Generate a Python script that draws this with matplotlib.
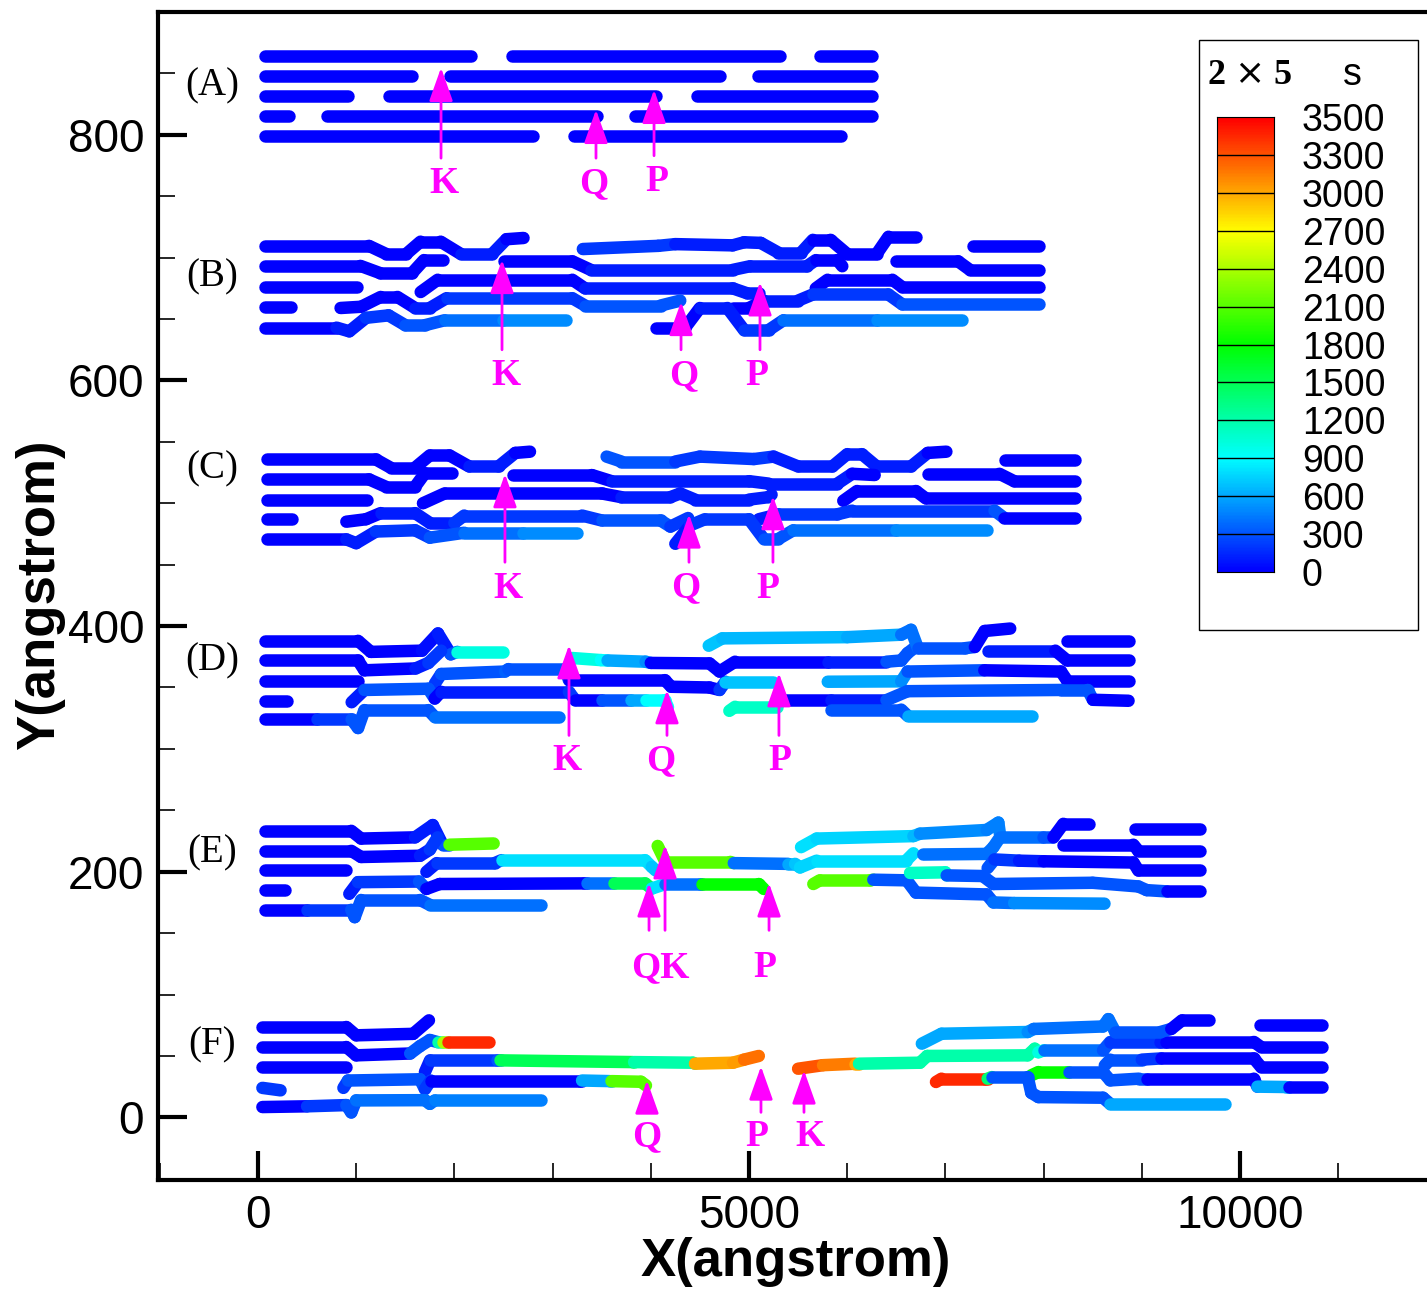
import numpy as np
import matplotlib
matplotlib.use('Agg')
import matplotlib.pyplot as plt
from matplotlib.collections import LineCollection
from matplotlib.colors import LinearSegmentedColormap
from matplotlib.patches import Rectangle
from matplotlib.ticker import MultipleLocator

plt.rcParams['font.family'] = ['Liberation Sans', 'DejaVu Sans']

# contour levels of the s legend
levels = [0, 300, 600, 900, 1200, 1500, 1800, 2100, 2400, 2700, 3000, 3300, 3500]

# every chain is a list of (x, y, s) knots
panel_a = [
    [(70, 864, 0), (2170, 864, 0)], [(2585, 864, 0), (5317, 864, 0)], [(5722, 864, 0), (6254, 864, 0)],
    [(70, 848, 0), (1569, 848, 0)], [(1954, 848, 0), (4706, 848, 0)], [(5091, 848, 0), (6254, 848, 0)],
    [(70, 832, 0), (918, 832, 0)], [(1333, 832, 0), (4054, 832, 0)], [(4469, 832, 0), (6254, 832, 0)],
    [(70, 815.5, 0), (317, 815.5, 0)], [(702, 815.5, 0), (3453, 815.5, 0)], [(3838, 815.5, 0), (6254, 815.5, 0)],
    [(70, 799, 0), (2802, 799, 0)], [(3217, 799, 0), (5938, 799, 0)],
]

panel_b = [
    [(70, 709.6, 0), (1130, 709.6, 0), (1305, 703, 0), (1510, 703, 0), (1655, 713, 0), (1860, 713, 0),
     (2065, 703, 100), (2385, 703, 100), (2530, 715, 0), (2704, 716, 0)],
    [(3308, 707, 200), (4076, 709.6, 200), (4250, 711, 100), (4834, 710, 100), (4950, 712.5, 100), (5120, 712, 100),
     (5300, 704, 100), (5530, 704, 100), (5650, 714.5, 0), (5830, 714.5, 0), (6000, 703, 0), (6300, 703, 0),
     (6420, 717, 0), (6700, 717, 0)],
    [(7285, 709.6, 0), (7952, 709.6, 0)],
    [(70, 693.3, 0), (1043, 693.3, 0), (1247, 687.3, 0), (1568, 687.3, 0), (1690, 698, 0), (1887, 698, 0)],
    [(2503, 697, 0), (3201, 697, 0), (3390, 690, 100), (4834, 690, 100), (5010, 693, 100), (5590, 693, 100),
     (5680, 698, 0), (5900, 698, 0), (5950, 693, 0)],
    [(6500, 697, 0), (7130, 697, 0), (7250, 690, 0), (7952, 690, 0)],
    [(70, 676, 0), (1012, 676, 0)],
    [(1657, 672, 0), (1830, 682, 0), (3201, 682, 0), (3330, 675, 100), (4834, 675, 100), (4980, 671, 100), (5100, 671, 100)],
    [(5680, 675, 0), (5800, 682, 0), (6460, 682, 0), (6560, 676, 0), (7952, 676, 0)],
    [(70, 659.6, 0), (340, 659.6, 0)],
    [(841, 659, 0), (1050, 660, 0), (1250, 668, 0), (1420, 668, 0), (1600, 659, 100), (1750, 659, 100),
     (1920, 667, 200), (3200, 667, 200), (3330, 661, 300), (4100, 661, 300), (4300, 665, 300)],
    [(4836, 659, 0), (5000, 659, 0), (5150, 665, 100), (5500, 665, 100), (5650, 670, 200), (6420, 670, 200),
     (6560, 662, 300), (7952, 662, 300)],
    [(70, 643, 0), (800, 643, 100), (930, 640, 100), (1100, 651, 200), (1330, 653, 200), (1500, 645, 300),
     (1700, 645, 300), (1900, 649, 400), (2500, 649, 500), (3141, 649, 550)],
    [(4048, 643, 0), (4350, 643, 0), (4500, 659, 100), (4780, 659, 100), (4950, 641, 200), (5200, 641, 200),
     (5350, 649, 400), (6300, 649, 500), (7165, 649, 550)],
]

panel_c = [
    [(90, 535.7, 0), (1200, 535.7, 0), (1350, 529, 0), (1600, 529, 0), (1750, 539, 0), (1950, 539, 0),
     (2150, 530, 100), (2450, 530, 100), (2620, 541, 0), (2770, 542, 0)],
    [(3550, 538, 300), (3700, 534, 300), (4250, 534, 200), (4500, 538, 200), (5050, 536, 200), (5250, 538, 100),
     (5500, 530, 100), (5850, 530, 100), (6000, 540, 100), (6150, 540, 100), (6300, 530, 100), (6650, 530, 100),
     (6820, 541, 0), (7010, 542, 0)],
    [(7610, 535.5, 0), (8320, 535.5, 0)],
    [(90, 519.5, 0), (1130, 519.5, 0), (1300, 513.5, 0), (1600, 513.5, 0), (1700, 524.5, 0), (1980, 524.5, 0)],
    [(2600, 523, 0), (3400, 523, 0), (3600, 518, 100), (5000, 518, 100), (5200, 516, 100), (5900, 516, 100),
     (6050, 524, 0), (6280, 523, 0)],
    [(6820, 524, 0), (7550, 524, 0), (7700, 518, 0), (8320, 518, 0)],
    [(90, 503, 0), (1110, 503, 0)],
    [(1680, 500, 0), (1900, 508, 0), (3500, 508, 0), (3700, 505, 100), (4200, 505, 100), (4300, 508, 100),
     (4450, 503, 100), (5000, 503, 100), (5200, 505, 100), (5230, 507, 100)],
    [(5960, 502, 0), (6100, 510, 0), (6700, 510, 0), (6800, 504, 0), (8320, 504, 0)],
    [(90, 487, 0), (350, 487, 0)],
    [(900, 485, 0), (1100, 487, 0), (1250, 492, 100), (1600, 492, 100), (1750, 484, 100), (2000, 484, 200),
     (2100, 490, 200), (3300, 490, 200), (3500, 486, 300), (4100, 486, 300), (4200, 481, 200), (4380, 488, 200)],
    [(5100, 487, 100), (5300, 491, 200), (5900, 491, 200), (6050, 494, 200), (7500, 494, 300), (7600, 488, 0), (8320, 488, 0)],
    [(90, 470.6, 0), (900, 470.6, 100), (1000, 467.5, 100), (1200, 477, 200), (1600, 478, 200), (1750, 472, 300),
     (2100, 476, 400), (2700, 476, 500), (3250, 476, 550)],
    [(4250, 467, 100), (4400, 482, 200), (4550, 487, 200), (5000, 487, 200), (5150, 471, 300), (5300, 471, 300),
     (5450, 478, 400), (6500, 478, 500), (7420, 478, 550)],
]

panel_d = [
    [(70, 388, 0), (1019, 388, 0), (1149, 379, 0), (1670, 380, 50), (1833, 394, 100), (1963, 377, 300),
     (2030, 379, 1000), (2490, 379, 1000)],
    [(70, 372, 0), (1019, 372, 0), (1084, 364, 0), (1605, 365.5, 100), (1735, 370, 200), (1865, 380, 300)],
    [(70, 355.5, 0), (1020, 355.5, 0)],
    [(1800, 353, 200), (1865, 361, 300), (2516, 363, 350), (2548, 365, 300), (3130, 365, 300), (3166, 356, 0),
     (4143, 356, 0), (4208, 350.6, 0), (4598, 350, 0), (4700, 348, 200), (4760, 354.7, 700), (5249, 354.7, 700)],
    [(70, 339, 0), (300, 339, 0)],
    [(954, 338, 100), (1084, 348, 300), (1735, 349, 300), (1800, 341, 0), (1865, 346.5, 100), (3166, 346.5, 200),
     (3230, 339.7, 0), (3500, 339.7, 300), (3800, 339.7, 600), (3950, 339.7, 900), (4143, 339.7, 900), (4175, 334, 900)],
    [(70, 324, 0), (600, 324, 200), (954, 324, 300), (1019, 317, 300), (1084, 331.6, 300), (1735, 331.6, 300),
     (1800, 326, 400), (3069, 326, 500)],
    [(3200, 374, 1000), (3492, 372.3, 900), (3560, 372, 600), (3947, 371, 500), (4000, 370, 0), (4598, 369.6, 0),
     (4700, 363, 0), (4858, 371, 0), (5800, 371, 100), (6400, 371, 300), (6550, 372, 300), (6615, 378, 300),
     (6680, 382, 300)],
    [(4590, 384, 700), (4728, 390, 650), (6000, 391, 600), (6550, 393, 400), (6650, 397, 400), (6720, 382, 300),
     (7200, 382, 300), (7300, 383, 0), (7400, 396, 0), (7660, 398, 0)],
    [(8240, 388, 0), (8865, 388, 0)],
    [(7430, 380, 100), (8120, 380, 0), (8240, 372, 0), (8865, 372, 0)],
    [(5802, 354.7, 600), (6550, 355, 500), (6615, 363, 300), (7396, 364, 0), (8177, 363, 0), (8240, 355.5, 0), (8865, 355.5, 0)],
    [(4800, 331, 1100), (4858, 334.3, 1100), (5281, 334.3, 1100), (5314, 339.7, 0), (5834, 339.7, 100),
     (6400, 339.7, 300), (6615, 347, 300), (8177, 348, 300), (8450, 348, 300), (8502, 340, 0), (8865, 339.2, 0)],
    [(5834, 332, 300), (6550, 332, 300), (6615, 327, 600), (7884, 327, 600)],
]

panel_e = [
    [(70, 233.3, 0), (950, 233.3, 0), (1050, 227, 0), (1600, 228, 100), (1780, 238, 100), (1880, 222, 300),
     (1950, 222, 2100), (2400, 223, 2100)],
    [(70, 217, 0), (950, 217, 0), (1050, 212, 0), (1650, 213, 100), (1750, 218, 200), (1830, 228, 300)],
    [(70, 201.2, 0), (900, 201.2, 0)],
    [(1715, 199.9, 100), (1819, 207, 200), (2410, 207, 200), (2480, 209.4, 800), (3941, 209.4, 800),
     (4010, 204, 700), (4050, 201, 600)],
    [(70, 185, 0), (280, 185, 0)],
    [(930, 182, 100), (1019, 191.5, 200), (1640, 192, 300), (1715, 186, 0), (1850, 190, 0), (3315, 190.5, 0),
     (3350, 190.5, 400), (3628, 190.5, 1500), (3941, 190.5, 1500), (4010, 186.3, 800), (4149, 190, 400),
     (4497, 190, 400), (4520, 190, 1800), (5100, 190, 1800), (5150, 186, 1800)],
    [(70, 169, 0), (500, 169, 200), (950, 169, 300), (985, 163, 300), (1050, 177, 300), (1650, 177, 300),
     (1750, 173, 400), (2880, 173, 400)],
    [(4070, 221, 2100), (4149, 208, 2100), (4810, 208, 2100), (4845, 207, 400), (5400, 206.4, 600),
     (5469, 206.4, 700), (5520, 203.5, 750), (5689, 209, 800), (6600, 209, 800), (6674, 215, 700)],
    [(5530, 220, 800), (5689, 227, 750), (6674, 229, 650), (6741, 231, 500), (7420, 234, 450), (7539, 240, 450),
     (7560, 228, 400), (7997, 228, 300), (8100, 228, 0), (8201, 239, 0), (8460, 239, 0)],
    [(6775, 214, 400), (7420, 214.5, 400), (7488, 220, 400), (7539, 226, 400)],
    [(7430, 203, 300), (7500, 210, 200), (7750, 209, 100), (8000, 208.5, 0), (8914, 207.5, 0), (8965, 201, 0), (9590, 201, 0)],
    [(8201, 222, 0), (8914, 222, 0), (8965, 217, 0), (9590, 217, 0)],
    [(8930, 235, 0), (9590, 235, 0)],
    [(5655, 190, 2100), (5720, 193, 2100), (6232, 193, 2100), (6266, 193.5, 300), (6606, 193, 300),
     (6700, 183, 300), (7420, 181.5, 300), (7488, 175, 400), (7700, 174.5, 500), (8620, 174, 600)],
    [(6640, 199, 1100), (7000, 199.5, 1100), (7013, 197, 300), (7380, 196.5, 300), (7488, 190, 300),
     (8500, 191, 300), (8965, 188, 300), (9050, 185, 300), (9253, 184, 0), (9590, 184, 0)],
]

panel_f = [
    [(45, 73.6, 0), (900, 73.6, 0), (1000, 66.8, 0), (1580, 68, 0), (1741, 79, 0)],
    [(45, 57.3, 0), (900, 57.3, 0), (1000, 50.5, 0), (1550, 52, 300), (1650, 58, 300), (1750, 63, 300),
     (1830, 61.3, 1200), (1880, 61.3, 2400), (1930, 61.3, 3400), (2350, 61.3, 3500)],
    [(45, 41, 0), (900, 41, 0)],
    [(1700, 36.9, 100), (1752, 46.4, 200), (2434, 46.4, 300), (2470, 46.4, 1500), (3819, 45, 1500),
     (3830, 45, 1200), (4430, 44.5, 1200), (4450, 43.7, 3000), (4837, 44.5, 3050), (4950, 47, 3200), (5100, 50, 3200)],
    [(45, 24, 200), (230, 22, 200)],
    [(870, 24, 200), (917, 30, 300), (1650, 31, 300), (1700, 23, 200), (1760, 30, 0), (3279, 30, 0),
     (3300, 30, 600), (3585, 29.5, 600), (3600, 29.5, 2100), (3900, 29, 2100), (3951, 26, 2100)],
    [(45, 8.4, 0), (500, 9, 200), (900, 10, 300), (950, 4, 300), (1000, 13.8, 400), (1700, 14, 400),
     (1750, 11, 400), (1800, 13.8, 450), (2880, 13.8, 500)],
    [(5500, 39.6, 3300), (5754, 42.5, 3150), (6084, 43.7, 3000), (6120, 43.7, 1200), (6741, 44.5, 1200),
     (6815, 50, 1200), (7838, 50.5, 1200), (7910, 55.9, 1200), (7947, 53, 1000), (8002, 54.6, 400),
     (8605, 54.6, 300), (8678, 61.4, 200), (9190, 61.4, 100), (9250, 61.4, 0), (10141, 61.4, 0),
     (10214, 57.3, 0), (10830, 57.3, 0)],
    [(6760, 60, 600), (6960, 68.1, 600), (7838, 69.5, 500), (7900, 72, 400), (8605, 74, 400), (8660, 80, 400),
     (8730, 69.5, 300), (9190, 69.5, 300), (9300, 72, 0), (9409, 79, 0), (9680, 79, 0)],
    [(10200, 75, 0), (10830, 75, 0)],
    [(8623, 42.3, 300), (8678, 47, 300), (9000, 47, 200), (9200, 48, 0), (10141, 48, 0), (10214, 41, 0), (10830, 41, 0)],
    [(7874, 34.2, 1800), (7947, 36.9, 1800), (8238, 36.9, 1800), (8260, 36.9, 300), (8605, 36.9, 300),
     (8678, 30.1, 300), (8971, 31.5, 300), (9050, 31.5, 0), (10141, 31.5, 0), (10177, 25, 600),
     (10468, 24.7, 600), (10500, 24.7, 0), (10830, 24.7, 0)],
    [(6904, 28.8, 3400), (6960, 31.5, 3400), (7399, 31.5, 3400), (7430, 31.5, 1400), (7472, 32.8, 300),
     (7838, 32.8, 300), (7874, 20, 300), (7947, 16.5, 300), (8605, 16, 300), (8678, 11, 600), (9850, 11, 600)],
]

panels = [panel_a, panel_b, panel_c, panel_d, panel_e, panel_f]
panel_names = ['(A)', '(B)', '(C)', '(D)', '(E)', '(F)']
panel_name_y = [840, 684, 528, 371.5, 215, 58.7]

# arrows: x, tail y, head y ; letters: text, x, y
arrows = [
    (1864, 781, 854.6), (3442, 781, 820.4), (4033, 783, 836.7),
    (2485, 625, 698.2), (4308, 625, 664), (5112, 625, 680),
    (2515, 452, 523.8), (4389, 452, 491), (5244, 452, 505.9),
    (3167, 311, 384.5), (4165, 311, 347.9), (5305, 311, 361.7),
    (3982, 152.3, 190.6), (4145, 152.3, 221.6), (5204, 152.3, 190.6),
    (3961, 5.7, 30.1), (5122, 4.1, 41.5), (5560, 4.1, 38.3),
]
letters = [
    ('K', 1895, 760), ('Q', 3422, 760), ('P', 4063, 762),
    ('K', 2525, 603.7), ('Q', 4338, 603.7), ('P', 5081, 603.7),
    ('K', 2546, 431), ('Q', 4358, 431), ('P', 5193, 431),
    ('K', 3147, 290.8), ('Q', 4104, 290.8), ('P', 5316, 290.8),
    ('QK', 4094, 122.2), ('P', 5163, 122.2),
    ('Q', 3961, -15.5), ('P', 5081, -15.5), ('K', 5621, -15.5),
]

# tecplot like rainbow, spread evenly over the level bands
cmap = LinearSegmentedColormap.from_list(
    'tec', [(0, (0, 0, 1)), (3 / 12, (0, 1, 1)), (6 / 12, (0, 1, 0)), (9 / 12, (1, 1, 0)), (1, (1, 0, 0))])


def level_pos(s):
    return np.interp(s, levels, np.arange(len(levels))) / (len(levels) - 1)


fig = plt.figure(figsize=(14.27, 12.90), dpi=100)
ax = fig.add_axes([158 / 1427, 1 - 1180 / 1290, 1 - 158 / 1427, 1168 / 1290])

for chains in panels:
    for chain in chains:
        pts = np.array(chain, dtype=float)
        segs = [pts[i:i + 2, :2] for i in range(len(pts) - 1)]
        cols = [cmap(level_pos(s)) for s in pts[:-1, 2]]
        lc = LineCollection(segs, colors=cols, linewidths=9, capstyle='round', joinstyle='round')
        ax.add_collection(lc)

for name, y in zip(panel_names, panel_name_y):
    ax.text(-470, y, name, fontsize=28, family='Liberation Serif', ha='center', va='center')

for x, y0, y1 in arrows:
    ax.annotate('', xy=(x, y1), xytext=(x, y0),
                arrowprops=dict(arrowstyle='-|>,head_length=0.9,head_width=0.32', color='#ff00ff',
                                lw=2, shrinkA=0, shrinkB=0, mutation_scale=23))
for txt, x, y in letters:
    ax.text(x, y, txt, color='#ff00ff', fontsize=27, fontweight='bold', family='Liberation Serif',
            ha='center', va='center')

ax.set_xlim(-1018, 11904)
ax.set_ylim(-51, 900)
ax.set_xticks([0, 5000, 10000])
ax.set_yticks([0, 200, 400, 600, 800])
ax.xaxis.set_minor_locator(MultipleLocator(1000))
ax.yaxis.set_minor_locator(MultipleLocator(50))
ax.tick_params(which='major', direction='in', length=21, width=3, labelsize=33, pad=10)
ax.tick_params(which='minor', direction='in', length=12, width=1.2)
for side in ['left', 'bottom', 'top']:
    ax.spines[side].set_linewidth(3)
ax.spines['right'].set_visible(False)

fig.text(796 / 1427, 1 - 1262 / 1290, 'X(angstrom)', fontsize=38, fontweight='bold', ha='center', va='center')
fig.text(40 / 1427, 1 - 595 / 1290, 'Y(angstrom)', fontsize=38, fontweight='bold', rotation=90,
         ha='center', va='center')

# legend box with the colour bar
box = Rectangle((1199 / 1427, 1 - 630 / 1290), 219 / 1427, 590 / 1290, transform=fig.transFigure,
                facecolor='white', edgecolor='black', lw=1, zorder=1)
fig.patches.append(box)
fig.text(1250 / 1427, 1 - 75 / 1290, r'2 $\times$ 5', fontsize=26, fontweight='bold', family='Liberation Serif',
         ha='center', va='center', zorder=3)
fig.text(1352 / 1427, 1 - 75 / 1290, 's', fontsize=27, ha='center', va='center', zorder=3)

cax = fig.add_axes([1217 / 1427, 1 - 572 / 1290, 57 / 1427, 455 / 1290], zorder=2)
grad = np.linspace(0, 1, 400).reshape(-1, 1)
cax.imshow(grad, cmap=cmap, aspect='auto', origin='lower', extent=[0, 1, 0, len(levels) - 1])
cax.hlines(np.arange(1, len(levels) - 1), 0, 1, color='black', lw=1)
cax.set_xlim(0, 1)
cax.set_ylim(0, len(levels) - 1)
cax.set_xticks([])
cax.yaxis.tick_right()
cax.set_yticks(np.arange(len(levels)))
cax.set_yticklabels([str(v) for v in levels])
cax.tick_params(length=0, pad=20, labelsize=27)

fig.savefig('out.png', dpi=100)
